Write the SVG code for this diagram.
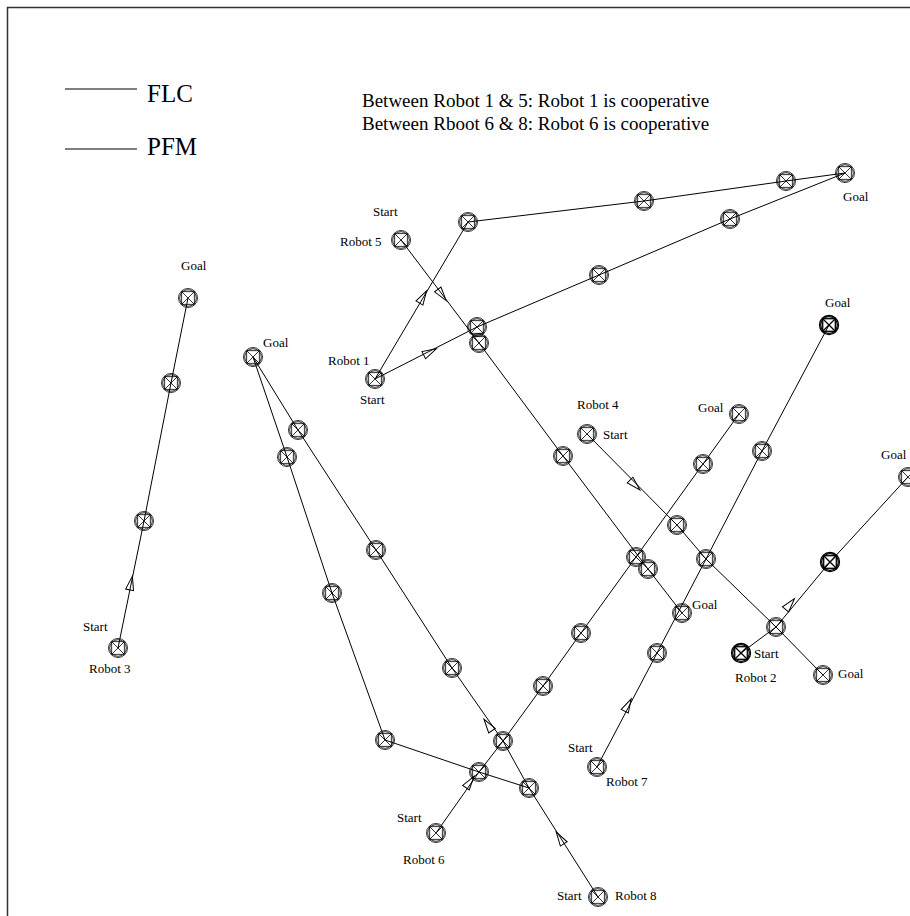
<svg xmlns="http://www.w3.org/2000/svg" xmlns:xlink="http://www.w3.org/1999/xlink" width="910" height="916" viewBox="0 0 910 916">
<style>
text{font-family:"Liberation Serif","Times New Roman",serif;fill:#000}
.lbl{font-size:13px}
.ttl{font-size:19px}
.leg{font-size:25px}
.ln{fill:none;stroke:#000;stroke-width:1}
.mk circle,.mk rect,.mk path{fill:none;stroke:#000;stroke-width:0.8}
.bold circle,.bold rect,.bold path{stroke-width:1.3}
.ar{fill:none;stroke:#000;stroke-width:1}
</style>
<defs>
<g id="m" class="mk"><circle r="9.5"/><circle r="8.3"/><rect x="-6.3" y="-6.3" width="12.6" height="12.6"/><path d="M-6.3,-6.3L6.3,6.3M6.3,-6.3L-6.3,6.3"/></g>
<g id="mb" class="mk bold"><circle r="9.5"/><circle r="8.3"/><rect x="-6.3" y="-6.3" width="12.6" height="12.6"/><path d="M-6.3,-6.3L6.3,6.3M6.3,-6.3L-6.3,6.3"/></g>
<polygon id="a" points="7,0 -7,-4 -7,4"/>
</defs>
<rect width="910" height="916" fill="#fff"/>
<path d="M7.5,916V7.5H910" fill="none" stroke="#333" stroke-width="1.5"/>
<g id="legend">
<line x1="65" y1="89" x2="137" y2="89" stroke="#000"/>
<text class="leg" x="147" y="102">FLC</text>
<line x1="65" y1="149" x2="137" y2="149" stroke="#000"/>
<text class="leg" x="147" y="155">PFM</text>
</g>
<g id="title">
<text class="ttl" x="362" y="107">Between Robot 1 &amp; 5: Robot 1 is cooperative</text>
<text class="ttl" x="362" y="130">Between Rboot 6 &amp; 8: Robot 6 is cooperative</text>
</g>
<g id="connectors">
<polyline class="ln" points="118,648 144,521 171,383 188,298"/>
<polyline class="ln" points="375,379 468,222 644,201 786,181 845,173"/>
<polyline class="ln" points="375,379 477,327 599,275 730,219 845,173"/>
<polyline class="ln" points="401,240 479,343 563,456 648,569 682,613"/>
<polyline class="ln" points="587,434 677,525 706,559 776,627 823,675"/>
<polyline class="ln" points="741,653 776,627 830,562 908,477"/>
<polyline class="ln" points="597,767 657,653 706,559 762,451 829,325"/>
<polyline class="ln" points="436,833 479,772 503,741 543,686 581,633 636,557 703,464 739,414"/>
<polyline class="ln" points="598,897 529,788 503,741 452,668 376,550 298,430 253,357"/>
<polyline class="ln" points="529,788 479,772 385,740 332,593 287,457 253,357"/>
<g class="ar">
<use xlink:href="#a" href="#a" transform="translate(131,583) rotate(-78.4)"/>
<use xlink:href="#a" href="#a" transform="translate(423,297) rotate(-59.4)"/>
<use xlink:href="#a" href="#a" transform="translate(442,295) rotate(52.9)"/>
<use xlink:href="#a" href="#a" transform="translate(430,352) rotate(-27)"/>
<use xlink:href="#a" href="#a" transform="translate(635,485) rotate(45.3)"/>
<use xlink:href="#a" href="#a" transform="translate(790,604) rotate(-50.3)"/>
<use xlink:href="#a" href="#a" transform="translate(628,705) rotate(-62.2)"/>
<use xlink:href="#a" href="#a" transform="translate(560,838) rotate(-122.3)"/>
<use xlink:href="#a" href="#a" transform="translate(488,725) rotate(-124.9)"/>
<use xlink:href="#a" href="#a" transform="translate(470,782) rotate(-54.8)"/>
</g>
</g>
<g id="robot3">
<use href="#m" xlink:href="#m" x="118" y="648"/>
<use href="#m" xlink:href="#m" x="144" y="521"/>
<use href="#m" xlink:href="#m" x="171" y="383"/>
<use href="#m" xlink:href="#m" x="188" y="298"/>
<text class="lbl" x="181" y="270">Goal</text>
<text class="lbl" x="83" y="631">Start</text>
<text class="lbl" x="89" y="673">Robot 3</text>
</g>
<g id="robot8">
<use href="#m" xlink:href="#m" x="253" y="357"/>
<use href="#m" xlink:href="#m" x="298" y="430"/>
<use href="#m" xlink:href="#m" x="287" y="457"/>
<use href="#m" xlink:href="#m" x="376" y="550"/>
<use href="#m" xlink:href="#m" x="332" y="593"/>
<use href="#m" xlink:href="#m" x="452" y="668"/>
<use href="#m" xlink:href="#m" x="385" y="740"/>
<use href="#m" xlink:href="#m" x="529" y="788"/>
<use href="#m" xlink:href="#m" x="598" y="897"/>
<text class="lbl" x="263" y="347">Goal</text>
<text class="lbl" x="557" y="900">Start</text>
<text class="lbl" x="615" y="900">Robot 8</text>
</g>
<g id="robot5">
<use href="#m" xlink:href="#m" x="401" y="240"/>
<use href="#m" xlink:href="#m" x="479" y="343"/>
<use href="#m" xlink:href="#m" x="563" y="456"/>
<use href="#m" xlink:href="#m" x="648" y="569"/>
<use href="#m" xlink:href="#m" x="682" y="613"/>
<text class="lbl" x="373" y="216">Start</text>
<text class="lbl" x="340" y="246">Robot 5</text>
<text class="lbl" x="692" y="609">Goal</text>
</g>
<g id="robot1">
<use href="#m" xlink:href="#m" x="375" y="379"/>
<use href="#m" xlink:href="#m" x="468" y="222"/>
<use href="#m" xlink:href="#m" x="644" y="201"/>
<use href="#m" xlink:href="#m" x="786" y="181"/>
<use href="#m" xlink:href="#m" x="477" y="327"/>
<use href="#m" xlink:href="#m" x="599" y="275"/>
<use href="#m" xlink:href="#m" x="730" y="219"/>
<use href="#m" xlink:href="#m" x="845" y="173"/>
<text class="lbl" x="328" y="365">Robot 1</text>
<text class="lbl" x="360" y="404">Start</text>
<text class="lbl" x="843" y="201">Goal</text>
</g>
<g id="robot4">
<use href="#m" xlink:href="#m" x="587" y="434"/>
<use href="#m" xlink:href="#m" x="677" y="525"/>
<use href="#m" xlink:href="#m" x="776" y="627"/>
<use href="#m" xlink:href="#m" x="823" y="675"/>
<text class="lbl" x="577" y="409">Robot 4</text>
<text class="lbl" x="603" y="439">Start</text>
<text class="lbl" x="838" y="678">Goal</text>
</g>
<g id="robot2">
<use href="#mb" xlink:href="#mb" x="741" y="653"/>
<use href="#mb" xlink:href="#mb" x="830" y="562"/>
<use href="#m" xlink:href="#m" x="908" y="477"/>
<text class="lbl" x="754" y="658">Start</text>
<text class="lbl" x="735" y="682">Robot 2</text>
<text class="lbl" x="881" y="459">Goal</text>
</g>
<g id="robot7">
<use href="#m" xlink:href="#m" x="597" y="767"/>
<use href="#m" xlink:href="#m" x="657" y="653"/>
<use href="#m" xlink:href="#m" x="706" y="559"/>
<use href="#m" xlink:href="#m" x="762" y="451"/>
<use href="#mb" xlink:href="#mb" x="829" y="325"/>
<text class="lbl" x="568" y="752">Start</text>
<text class="lbl" x="606" y="786">Robot 7</text>
<text class="lbl" x="825" y="307">Goal</text>
</g>
<g id="robot6">
<use href="#m" xlink:href="#m" x="436" y="833"/>
<use href="#m" xlink:href="#m" x="479" y="772"/>
<use href="#m" xlink:href="#m" x="503" y="741"/>
<use href="#m" xlink:href="#m" x="543" y="686"/>
<use href="#m" xlink:href="#m" x="581" y="633"/>
<use href="#m" xlink:href="#m" x="636" y="557"/>
<use href="#m" xlink:href="#m" x="703" y="464"/>
<use href="#m" xlink:href="#m" x="739" y="414"/>
<text class="lbl" x="397" y="822">Start</text>
<text class="lbl" x="403" y="864">Robot 6</text>
<text class="lbl" x="698" y="412">Goal</text>
</g>
</svg>
